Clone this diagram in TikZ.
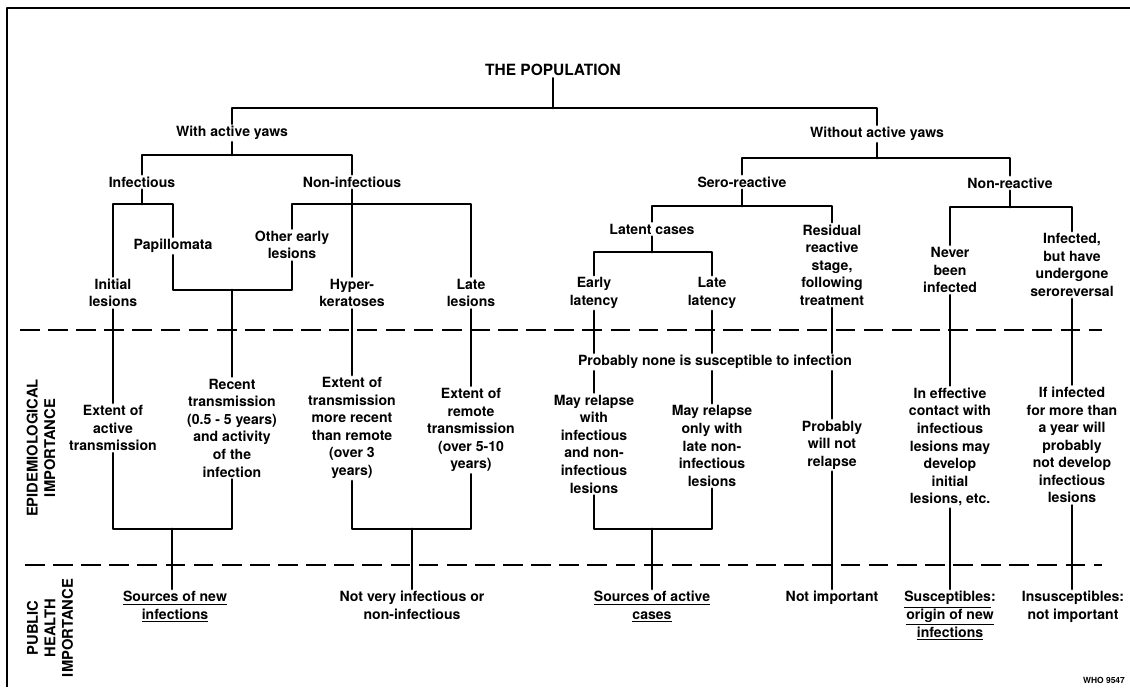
\documentclass[tikz,border=0pt]{standalone}
\usepackage{fontspec}
\setmainfont{TeX Gyre Heros}
\begin{document}
\begin{tikzpicture}[x=0.025cm,y=-0.025cm,line cap=round,line join=round,
  lbl/.style={align=center,inner sep=1.5pt,font=\bfseries\fontsize{10}{12.5}\selectfont},
  foot/.style={lbl,anchor=north},
  side/.style={align=center,rotate=90,inner sep=0pt,font=\bfseries\fontsize{10.5}{12.5}\selectfont},
  branch/.style={line width=2pt},
  divider/.style={line width=1.4pt,line cap=butt,dash pattern=on 14pt off 6pt}]
\useasboundingbox (0,0) rectangle (1130,687);
\draw[line width=1.2pt,line cap=butt] (7,687) -- (7,8) -- (1130,8);
\draw[divider] (20,330) -- (1102,330);
\draw[divider] (25,565) -- (1102,565);

\node[lbl,font=\bfseries\fontsize{11}{13}\selectfont] (pop) at (553,70) {THE POPULATION};
\foreach \nm/\x/\y/\txt in {with/232/133/With active yaws,without/877/134/Without active yaws,
  inf/142/182/Infectious,noninf/352/182/Non-infectious,sero/742/182/Sero-reactive,
  nonreact/1010/183/Non-reactive,papil/173/246/Papillomata,latent/652/229/Latent cases,
  probnone/715/362/Probably none is susceptible to infection}
  \node[lbl] (\nm) at (\x,\y) {\txt};

\node[lbl] (initial) at (113,293) {Initial\\lesions};
\node[lbl] (other) at (292,245) {Other early\\lesions};
\node[lbl] (hyper) at (352,293) {Hyper-\\keratoses};
\node[lbl] (late) at (471,293) {Late\\lesions};
\node[lbl] (early) at (594,293) {Early\\latency};
\node[lbl] (latelat) at (712,293) {Late\\latency};
\node[lbl] (resid) at (832,265) {Residual\\reactive\\stage,\\following\\treatment};
\node[lbl] (never) at (950,270) {Never\\been\\infected};
\node[lbl] (infected) at (1072,265) {Infected,\\but have\\undergone\\seroreversal};

\node[lbl] (ext1) at (113,428) {Extent of\\active\\transmission};
\node[lbl] (recent) at (232,428) {Recent\\transmission\\(0.5 - 5 years)\\and activity\\of the\\infection};
\node[lbl] (ext2) at (352,428) {Extent of\\transmission\\more recent\\than remote\\(over 3\\years)};
\node[lbl] (ext3) at (471,430) {Extent of\\remote\\transmission\\(over 5-10\\years)};
\node[lbl] (relapse1) at (594,444) {May relapse\\with\\infectious\\and non-\\infectious\\lesions};
\node[lbl] (relapse2) at (712,446) {May relapse\\only with\\late non-\\infectious\\lesions};
\node[lbl] (probnot) at (832,445) {Probably\\will not\\relapse};
\node[lbl] (effective) at (950,447) {In effective\\contact with\\infectious\\lesions may\\develop\\initial\\lesions, etc.};
\node[lbl] (ifinf) at (1072,445) {If infected\\for more than\\a year will\\probably\\not develop\\infectious\\lesions};

\node[foot] (src1) at (175,589) {\underline{Sources of new}\\\underline{infections}};
\node[foot] (notvery) at (412,589) {Not very infectious or\\non-infectious};
\node[foot] (src2) at (652,589) {\underline{Sources of active}\\\underline{cases}};
\node[foot] (notimp) at (832,589) {Not important};
\node[foot] (suscept) at (950,589) {\underline{Susceptibles}:\\\underline{origin of new}\\\underline{infections}};
\node[foot] (insus) at (1073,589) {Insusceptibles:\\not important};

\node[side] (epi) at (41,448) {EPIDEMIOLOGICAL\\IMPORTANCE};
\node[side] (pub) at (50,628) {PUBLIC\\HEALTH\\IMPORTANCE};
\node[font=\bfseries\fontsize{6}{7}\selectfont,inner sep=0pt] (who) at (1104,680) {WHO 9547};

\coordinate (j0) at (553,108);
\coordinate (wa) at (232,155);
\coordinate (wo) at (877,158);
\coordinate (ia) at (142,204);
\coordinate (na) at (352,204);
\coordinate (pa) at (232,290);
\coordinate (sa) at (742,206);
\coordinate (la) at (652,252);
\coordinate (ra) at (1010,207);
\coordinate (m1) at (172,529);
\coordinate (m2) at (412,529);
\coordinate (m3) at (652,529);

\draw[branch] (pop.south) -- (j0);
\draw[branch] (with.north) |- (j0) -| (without.north);
\draw[branch] (with.south) -- (wa);
\draw[branch] (inf.north) |- (wa) -| (noninf.north);
\draw[branch] (without.south) -- (wo);
\draw[branch] (sero.north) |- (wo) -| (nonreact.north);
\draw[branch] (inf.south) -- (ia);
\draw[branch] (initial.north) |- (ia) -| (papil.north);
\draw[branch] (noninf.south) -- (hyper.north);
\draw[branch] (other.north) |- (na) -| (late.north);
\draw[branch] (papil.south) |- (pa) -| (other.south);
\draw[branch] (pa) -- (recent.north);
\draw[branch] (sero.south) -- (sa);
\draw[branch] (latent.north) |- (sa) -| (resid.north);
\draw[branch] (latent.south) -- (la);
\draw[branch] (early.north) |- (la) -| (latelat.north);
\draw[branch] (nonreact.south) -- (ra);
\draw[branch] (never.north) |- (ra) -| (infected.north);

\draw[branch] (initial.south) -- (ext1.north);
\draw[branch] (hyper.south) -- (ext2.north);
\draw[branch] (late.south) -- (ext3.north);
\foreach \nm/\nxt in {early/relapse1,latelat/relapse2,resid/probnot}{
  \draw[branch] (\nm.south) -- (\nm.south |- probnone.north);
  \draw[branch] (\nm.south |- probnone.south) -- (\nxt.north);
}
\draw[branch] (never.south) -- (effective.north);
\draw[branch] (infected.south) -- (ifinf.north);

\draw[branch] (ext1.south) |- (m1) -| (recent.south);
\draw[branch] (m1) -- (m1 |- src1.north);
\draw[branch] (ext2.south) |- (m2) -| (ext3.south);
\draw[branch] (m2) -- (notvery.north);
\draw[branch] (relapse1.south) |- (m3) -| (relapse2.south);
\draw[branch] (m3) -- (src2.north);
\draw[branch] (probnot.south) -- (notimp.north);
\draw[branch] (effective.south) -- (suscept.north);
\draw[branch] (ifinf.south) -- (ifinf.south |- insus.north);
\end{tikzpicture}
\end{document}
